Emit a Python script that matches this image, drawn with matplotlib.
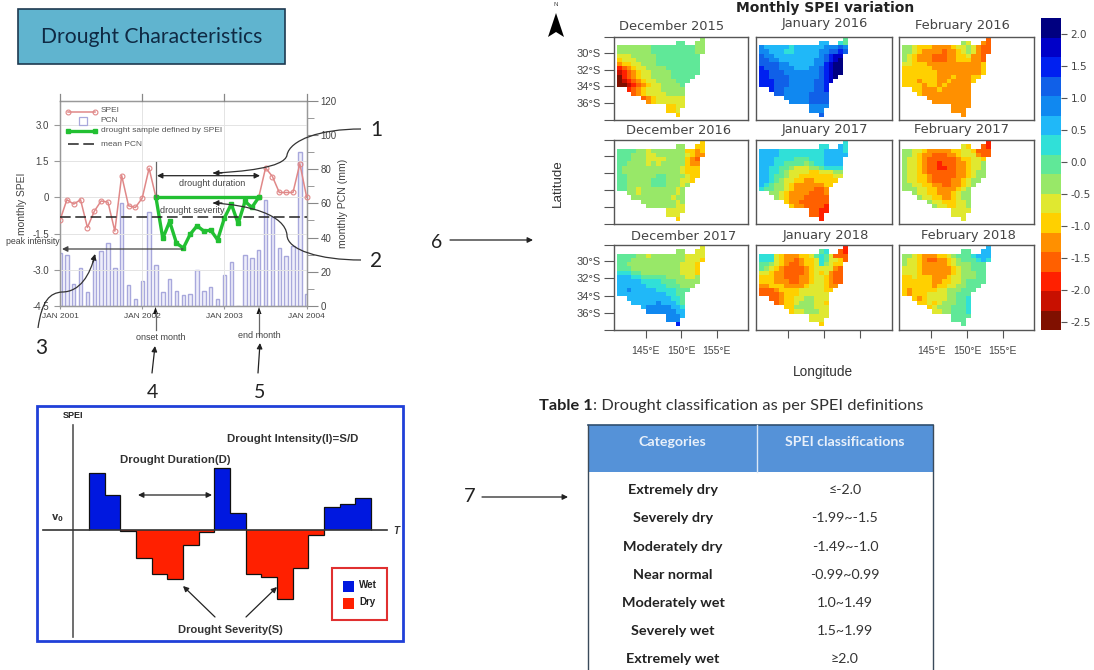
import numpy as np
import matplotlib
matplotlib.use("Agg")
import matplotlib.pyplot as plt
from matplotlib.colors import ListedColormap, BoundaryNorm
from matplotlib.patches import Rectangle, FancyArrowPatch, PathPatch, Polygon
from matplotlib.path import Path
from matplotlib.cm import ScalarMappable

W, H = 1094, 670

# ---------- time-series panel ----------
months = list(range(37))
pcn = [31, 30, 13, 22, 8, 27, 32, 37, 22, 60, 12, 4, 14.5, 55, 24, 8.4, 16, 9, 6.5, 7, 21, 9, 11, 4, 18, 26,
       0, 30, 28, 33, 62, 52, 34, 29, 35, 90, 7]
spei_before = [-0.95, -0.1, -0.28, -0.1, -1.25, -0.58, -0.15, -0.2, -1.4, 0.9, -0.35, -0.42, -0.03, 1.2, 0.0]
spei_drought = [0.0, -1.7, -1.0, -1.9, -2.1, -1.53, -1.18, -1.4, -1.36, -1.76, -0.85, -0.28, -1.08, -0.17, -0.42, 0.0]
spei_after = [0.0, 1.22, 0.86, 0.2, 0.2, 0.2, 1.39, 0.0]
mean_pcn = 52
year_labels = ["JAN 2001", "JAN 2002", "JAN 2003", "JAN 2004"]

# ---------- run theory diagram ----------
run_values = [57, 35, -1, -28, -44, -49, -15, -2, 62, 17, -44, -47, -69, -38, -5, 23, 26, 32]

# ---------- table ----------
table_headers = ["Categories", "SPEI classifications"]
table_categories = ["Extremely dry", "Severely dry", "Moderately dry", "Near normal",
                    "Moderately wet", "Severely wet", "Extremely wet"]
table_ranges = ["≤-2.0", "-1.99~-1.5", "-1.49~-1.0", "-0.99~0.99", "1.0~1.49", "1.5~1.99", "≥2.0"]

# ---------- SPEI maps: each char is a colour-class index (hex), '.' = outside ---------
cbar_colors = ["#801000", "#c81000", "#ff2000", "#ff6000", "#ff9000", "#ffd000", "#e0e830", "#98e868",
               "#60e898", "#30e0d8", "#20b8f8", "#1088f0", "#1060e8", "#0020f0", "#0000c8", "#000080"]
cbar_bounds = np.linspace(-2.63, 2.25, 17)

dec2015 = [".................7", "............88..77", "777777788888888877", "777777788888888877",
           "66677777888888888", "56667777888888888", "45566777888888888", "23456677778888888",
           "12345667777888888", "0234566777788888", "012345667777888", "00123456677778",
           "..234566677777", "...34566667777", ".....345666666", "......45666666",
           "..........5566", "..........556", "............5"]
jan2016 = [".................8", "............aa..98", "baaaaa9aaaaaabbbcb", "bbaaa99aaaaabbccdc",
           "cbbaaaaaaaaabcdee", "ccbbaaaaaaabbcdef", "ccccbbaaaaabbdeff", "dcccbbbaaabbcdeff",
           "ddcccbbbbbbbcdeff", "ddccccbbbbbbcdef", "dddcccbbbbbccde", "dddcccbbbbbccd",
           "..dccbbbbbbccd", "...ccbbbbbcccc", ".....bbbbbcccc", "......bbbbcccc",
           "..........bbbb", "..........bbb", "............c"]
feb2016 = [".................3", "............76..43", "776555444456676433", "776544443445676433",
           "76544433344556443", "76544433344555443", "66555444444444445", "55555544444444445",
           "55555554444444445", "5555555444544455", "555455544544445", "55554554544444",
           "..554445444444", "...54444444444", ".....444444444", "......44444444",
           "..........4444", "..........444", "............4"]
dec2016 = [".................5", "............77..55", "888877677777775545", "888777667777776544",
           "88877766667777543", "88777767677777544", "87777777777776555", "87777777777776555",
           "88777777887777655", "8877777888777665", "887777788877767", "88776777777767",
           "..776777777767", "...77777777677", ".....777777767", "......77777766",
           "..........6666", "..........666", "............5"]
jan2017 = [".................9", "............99..a9", "aaaa999999999aaaa9", "aaaa999999999aaaaa",
           "aaa9999888999aaaa", "aaa9988887899aaaa", "aa998876667789999", "aa998766665566677",
           "aa988766555555566", "aa98766554455555", "a98776544444455", "98877654444334",
           "..776544443334", "...76544433333", ".....544333333", "......54433332",
           "..........3322", "..........332", "............2"]
feb2017 = [".................2", "............65..32", "776654444455665333", "776544333445666433",
           "76654333333455665", "76654332333445667", "76654332233445667", "76654333333445677",
           "76655433333445677", "7665543333445677", "776655443344567", "77766554444567",
           "..766554445677", "...76655445677", ".....766555667", "......76655667",
           "..........6666", "..........666", "............6"]
dec2017 = [".................6", "............77..66", "888877677777776666", "888777777777776665",
           "88777777777776665", "88877777777776665", "99988777777776665", "aaa99888887777667",
           "aaaaa999988877777", "aaaaaa9999888777", "aabaaaaa9999888", "aaaaaaaaaa9988",
           "..aaaaaaaaa998", "...aaaaabaaa98", ".....abbbbbaa9", "......bbbbbbaa",
           "..........bbba", "..........bbb", "............d"]
jan2018 = [".................2", "............89..32", "999654445568986333", "999654434556986653",
           "88765433455697655", "87654333345666643", "66544333345656433", "55544333445665433",
           "55544433445665433", "4455544445666544", "333455556666655", "33334555666666",
           "..334556677666", "...34556777665", ".....557777666", "......56677766",
           "..........6666", "..........666", "............5"]
feb2018 = [".................a", "............88..aa", "776544455678889aaa", "7665433445678889a9",
           "76654444456777888", "66654444445677888", "66654444445677788", "55655544456677788",
           "55555544556678888", "5555554556677888", "545555566777888", "54555666677888",
           "..545666677889", "...55656777889", ".....567778889", "......66778889",
           "..........8888", "..........888", "............8"]

map_titles = ["December 2015", "January 2016", "February 2016",
              "December 2016", "January 2017", "February 2017",
              "December 2017", "January 2018", "February 2018"]
map_grids = [dec2015, jan2016, feb2016, dec2016, jan2017, feb2017, dec2017, jan2018, feb2018]
lat_labels = ["30°S", "32°S", "34°S", "36°S"]
lat_ticks = [-30, -32, -34, -36]
lon_ticks = [145, 150, 155]
lon_labels = ["145°E", "150°E", "155°E"]
cbar_ticks = [2.0, 1.5, 1.0, 0.5, 0.0, -0.5, -1.0, -1.5, -2.0, -2.5]

SANS = "Liberation Sans"
CAL = "Lato"
DV = "DejaVu Sans"
GREY = "#555555"


def ax_px(l, t, r, b, **kw):
    return fig.add_axes([l / W, 1 - b / H, (r - l) / W, (b - t) / H], **kw)


fig = plt.figure(figsize=(W / 100, H / 100), dpi=100, facecolor="white")

# ---------- left time-series ----------
ax = ax_px(60, 100.7, 306.7, 306)
ax.set_xlim(0, 36)
ax.set_ylim(-4.5, 4.0)
ax2 = ax.twinx()
ax2.set_ylim(0, 120)
ax2.bar(months, pcn, width=0.5, facecolor="#eeeefa", edgecolor="#a8a8dc", linewidth=1.0, zorder=1)
ax2.set_yticks(range(0, 121, 20))
ax2.set_yticks(range(0, 121, 10), minor=True)
ax2.tick_params(axis="y", which="major", length=8, color="#888888", labelsize=7, labelcolor="#444444", pad=2)
ax2.tick_params(axis="y", which="minor", length=5, color="#888888")
for lab in ax2.get_yticklabels():
    lab.set_family(SANS)
ax2.set_ylabel("monthly PCN (mm)", family=SANS, fontsize=7.6, color="#444444", labelpad=1)
ax.set_zorder(ax2.get_zorder() + 1)
ax.patch.set_alpha(0)
ax.plot(range(0, 15), spei_before, color="#e08888", lw=1.1, marker="o", ms=3.5, mfc="none", mew=0.8, zorder=3)
ax.plot(range(29, 37), spei_after, color="#e08888", lw=1.1, marker="o", ms=3.5, mfc="none", mew=0.8, zorder=3, clip_on=False)
ax.plot(range(14, 30), spei_drought, color="#22c032", lw=2.4, marker="s", ms=3, zorder=4)
ax.plot([14, 29], [0, 0], color="#22c032", lw=2.4, zorder=4)
ax.axhline((mean_pcn / 120) * 8.5 - 4.5, color="#222222", lw=1.1, dashes=(7, 3), zorder=5)
ax.set_yticks([-4.5, -3.0, -1.5, 0, 1.5, 3.0])
ax.set_yticklabels(["-4.5", "-3.0", "-1.5", "0", "1.5", "3.0"], family=SANS, fontsize=7, color="#444444")
ax.set_xticks([0, 12, 24, 36])
ax.set_xticklabels(year_labels, family=SANS, fontsize=6, color="#444444")
ax.tick_params(axis="x", length=2, color="#999999", pad=3)
ax.tick_params(axis="y", length=4, color="#999999", pad=4)
ax.grid(True, color="#e4e4e4", lw=0.7)
ax.set_axisbelow(True)
ax.set_ylabel("monthly SPEI", family=SANS, fontsize=7.4, color="#444444", labelpad=4)
for a in (ax, ax2):
    for s in a.spines.values():
        s.set_color("#999999")
        s.set_linewidth(0.9)

# ---------- SPEI maps ----------
cmap = ListedColormap(cbar_colors)
norm = BoundaryNorm(cbar_bounds, cmap.N)
lon_edges = np.linspace(140.92, 153.35, 19)
lat_edges = np.linspace(-28.1, -37.6, 20)
mids = (cbar_bounds[:-1] + cbar_bounds[1:]) / 2
col_x = [(613.5, 748), (756, 891.7), (899, 1034)]
row_y = [(36.7, 120), (140, 224.3), (245, 329.7)]
for i, (grid, title) in enumerate(zip(map_grids, map_titles)):
    r, c = i // 3, i % 3
    a = ax_px(col_x[c][0], row_y[r][0], col_x[c][1], row_y[r][1])
    vals = np.full((19, 18), np.nan)
    for y, rowtxt in enumerate(grid):
        for x, ch in enumerate(rowtxt.ljust(18, ".")):
            if ch != ".":
                vals[y, x] = mids[int(ch, 16)]
    a.pcolormesh(lon_edges, lat_edges, np.ma.masked_invalid(vals), cmap=cmap, norm=norm, linewidth=0)
    a.set_xlim(140.47, 159.4)
    a.set_ylim(-37.98, -28.1)
    for s in a.spines.values():
        s.set_color(GREY)
        s.set_linewidth(1.0)
    if c == 0:
        a.set_yticks([-28.1] + lat_ticks + [-37.98])
        if r != 1:
            a.set_yticklabels([""] + lat_labels + [""], family=SANS, fontsize=8, color="#444444")
        else:
            a.set_yticklabels([""] * 6)
        a.tick_params(axis="y", length=7, color=GREY, pad=2)
    else:
        a.set_yticks([])
    if r == 2:
        a.set_xticks(lon_ticks)
        if c != 1:
            a.set_xticklabels(lon_labels, family=SANS, fontsize=7.5, color="#444444")
        else:
            a.set_xticklabels([""] * 3)
        a.tick_params(axis="x", length=6, color=GREY, pad=6)
    else:
        a.set_xticks([])

cax = ax_px(1040.7, 18, 1061, 330)
cb = fig.colorbar(ScalarMappable(norm=norm, cmap=cmap), cax=cax, ticks=cbar_ticks, spacing="proportional")
cb.ax.set_yticklabels(["%.1f" % t for t in cbar_ticks], family=DV, fontsize=7.5, color="#444444")
cb.ax.minorticks_off()
cb.ax.tick_params(length=4, color=GREY, pad=3)
cb.outline.set_visible(False)

# ---------- run theory bars ----------
rb = ax_px(37, 406, 403, 641)
rb.set_xlim(-3.32, 20.04)
rb.set_ylim(-111, 124)
rb.bar(range(len(run_values)), run_values, width=1.0, align="edge",
       color=["#0018e0" if v > 0 else "#ff2000" for v in run_values], edgecolor="none", linewidth=0)
rb.stairs(run_values, range(len(run_values) + 1), baseline=0, color="#111111", lw=0.9)
rb.set_xticks([])
rb.set_yticks([])
for s in rb.spines.values():
    s.set_visible(False)

# ---------- overlay in pixel coordinates ----------
ov = fig.add_axes([0, 0, 1, 1], zorder=20)
ov.set_xlim(0, W)
ov.set_ylim(H, 0)
ov.axis("off")
ov.patch.set_alpha(0)


def arrow(p0, p1, style="-|>", lw=0.9, ms=8, color="#222222"):
    ov.add_patch(FancyArrowPatch(p0, p1, arrowstyle=style, mutation_scale=ms, lw=lw, color=color,
                                 shrinkA=0, shrinkB=0))


def curve(pts, lw=0.9, color="#333333"):
    codes = [Path.MOVETO] + [Path.CURVE4] * (len(pts) - 1)
    ov.add_patch(PathPatch(Path(pts, codes), fc="none", ec=color, lw=lw))


def txt(x, y, s, size=8, family=SANS, color="#333333", ha="center", va="center", **kw):
    return ov.text(x, y, s, fontsize=size, family=family, color=color, ha=ha, va=va, **kw)


# header box
ov.add_patch(Rectangle((17.5, 9), 267.5, 55, fc="#60b4cf", ec="#1e3a50", lw=1.2))
txt(152, 37, "Drought Characteristics", size=15.2, family=CAL, color="#0f2a44")

# top ticks of the series panel
for xx in (60, 142.2, 224.4, 306.7):
    ov.plot([xx, xx], [93.7, 100.7], color="#888888", lw=0.9)

# legend of the series
ov.plot([68, 95], [112, 112], color="#e08888", lw=1.1, marker="o", ms=3.5, mfc="none", mew=0.8)
ov.plot([82.5], [121], marker="s", ms=6, mfc="none", mec="#a8a8dc", mew=0.9)
ov.plot([68, 95], [130.7, 130.7], color="#22c032", lw=2.4, marker="s", ms=2.5)
ov.plot([68, 95], [144, 144], color="#222222", lw=1.1, dashes=(7, 3))
for yy, s in zip([111, 120.5, 130.5, 144.5], ["SPEI", "PCN", "drought sample defined by SPEI", "mean PCN"]):
    txt(100.7, yy, s, size=6.0, ha="left", color="#555555")

# annotations of the series
txt(33, 242, "peak intensity", size=6.3, color="#444444")
arrow((183, 249), (62, 249), color="#444444")
arrow((157, 175.7), (260, 175.7), style="<|-|>", color="#222222")
txt(212, 183, "drought duration", size=6.5, color="#444444")
txt(192, 210.7, "drought severity", size=6.5, color="#444444")
ov.plot([155.7, 155.7], [162, 197], color="#666666", lw=0.9)
ov.plot([155.7, 155.7], [312, 330], color="#666666", lw=0.9)
ov.plot([258.5, 258.5], [312, 335], color="#666666", lw=0.9)
for xx in (155.5, 259):
    ov.add_patch(Polygon([[xx - 2.5, 314], [xx + 2.5, 314], [xx, 307]], fc="#111111", ec="none"))
txt(160.6, 337, "onset month", size=6.5, color="#444444")
txt(259, 336, "end month", size=6.5, color="#444444")
arrow((152, 373), (155, 346))
arrow((258, 373), (260, 343))
txt(152, 393, "4", size=14, family=CAL, color="#222222")
txt(260, 392, "5", size=14, family=CAL, color="#222222")
curve([(361, 129), (320, 129), (290, 140), (287, 155), (285, 168), (240, 172), (213, 173)])
arrow((222, 173), (213, 173))
curve([(361, 260), (320, 260), (287, 250), (287, 235), (285, 215), (250, 205), (213, 203)])
arrow((222, 203), (213, 203))
curve([(38, 328), (42, 300), (50, 293), (62, 292), (80, 292), (90, 275), (95, 255)])
arrow((93, 262), (95, 254))
txt(376, 130, "1", size=15, family=CAL, color="#222222")
txt(376, 261, "2", size=15, family=CAL, color="#222222")
txt(41, 348, "3", size=15, family=CAL, color="#222222")

# maps annotations
txt(825, 8, "Monthly SPEI variation", size=10, family=DV, color="#222222", fontweight="bold")
title_pos = [(672, 26), (825, 24), (962, 25), (679, 131), (825, 130), (961, 130), (684, 236), (826, 236), (968, 236)]
for (xx, yy), s in zip(title_pos, map_titles):
    txt(xx, yy, s, size=9.4, family=DV, color="#444444")
txt(558, 183, "Latitude", size=9.6, family=SANS, color="#333333", rotation=90)
txt(823, 372, "Longitude", size=9.8, family=SANS, color="#333333")
ov.add_patch(Polygon([[556, 13], [564, 37], [556, 32], [548, 37]], fc="black", ec="none"))
txt(556, 5, "N", size=4.5, color="#444444")
txt(437, 243, "6", size=14, family=CAL, color="#222222")
arrow((450, 240), (533, 240))

# run theory annotations
ov.add_patch(Rectangle((37, 406), 366, 235, fc="none", ec="#2040d8", lw=2))
ov.plot([73, 73], [425, 637], color="#555555", lw=1.2)
ov.plot([43, 387], [530, 530], color="#333333", lw=1.2)
txt(73, 416, "SPEI", size=6.5, color="#222222", fontweight="bold")
txt(293, 439, "Drought Intensity(I)=S/D", size=8.2, color="#333333", fontweight="bold")
txt(175, 460, "Drought Duration(D)", size=8.2, color="#333333", fontweight="bold")
txt(230, 630, "Drought Severity(S)", size=8.0, color="#333333", fontweight="bold")
txt(57, 518, "$\\mathbf{v_0}$", size=7, color="#333333")
txt(396, 531, "T", size=7, color="#333333", fontweight="bold", style="italic")
arrow((138, 495), (212, 495), style="<|-|>")
arrow((215, 617), (183, 586))
arrow((246, 617), (277, 587))
ov.add_patch(Rectangle((332, 568), 55, 52, fc="white", ec="#e03030", lw=1.5))
ov.add_patch(Rectangle((343, 581), 11, 11, fc="#0018e0", ec="none"))
ov.add_patch(Rectangle((343, 598), 11, 11, fc="#ff2000", ec="none"))
txt(359, 585, "Wet", size=7, ha="left", color="#222222", fontweight="bold")
txt(359, 602, "Dry", size=7, ha="left", color="#222222", fontweight="bold")

# table
t1 = txt(539, 406, "Table 1", size=11.8, family=CAL, color="#222222", ha="left", fontweight="bold")
fig.canvas.draw()
bb = t1.get_window_extent()
txt(bb.x1 + 0.5, 406, ": Drought classification as per SPEI definitions", size=11.8, family=CAL, color="#333333", ha="left")
ov.add_patch(Rectangle((588, 425), 345, 47, fc="#5592d8", ec="none"))
ov.plot([588, 933], [425, 425], color="#2f4f70", lw=1.2)
ov.plot([588, 588], [425, 670], color="#3a4a5a", lw=1.0)
ov.plot([933, 933], [425, 670], color="#3a4a5a", lw=1.0)
ov.plot([757, 757], [425, 472], color="#dbe8f6", lw=1.0)
txt(672.7, 442, table_headers[0], size=10.2, family=CAL, color="#e8f0fa", fontweight="bold")
txt(845, 442, table_headers[1], size=10.2, family=CAL, color="#e8f0fa", fontweight="bold")
for yy, a_, b_ in zip([490, 518, 547, 575, 603, 631, 659], table_categories, table_ranges):
    txt(673, yy, a_, size=10.4, family=CAL, color="#222222", fontweight="bold")
    txt(845, yy, b_, size=10.2, family=CAL, color="#333333")
txt(470, 497, "7", size=14.5, family=CAL, color="#222222")
arrow((482, 497), (568, 497))

fig.savefig("out.png", dpi=100)
